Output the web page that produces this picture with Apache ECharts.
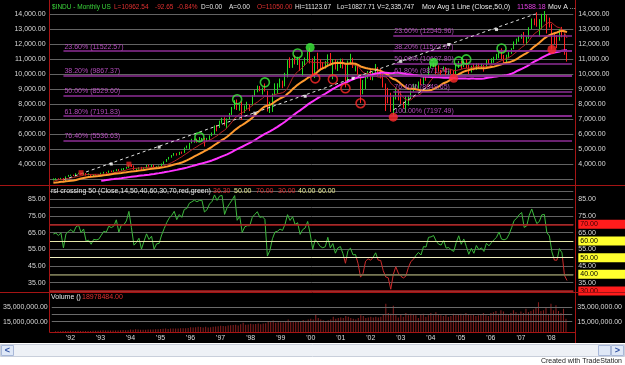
<!DOCTYPE html>
<html>
<head>
<meta charset="utf-8">
<script src="https://cdn.jsdelivr.net/npm/echarts@6/dist/echarts.min.js"></script>
<style>
html, body { margin: 0; padding: 0; background: #fff; }
#chart { width: 625px; height: 365px; }
</style>
</head>
<body>
<div id="chart"></div>
<script>
// $INDU monthly, Jul 1991 .. Jul 2008
const startYear = 1991
const startMonth = 7

// closes before the first bar, only used to warm up the indicators
const warmupCloses = [
  2342, 2258, 2294, 2419, 2480, 2440, 2661, 2737, 2693, 2645, 2706, 2753,
  2591, 2627, 2707, 2657, 2877, 2881, 2905, 2614, 2453, 2442, 2560, 2634,
  2736, 2882, 2914, 2888, 3028, 2907
]

const closes = [
  3025, 3044, 3017, 3069, 2895, 3169,
  3224, 3267, 3236, 3359, 3397, 3319, 3394, 3257, 3272, 3226, 3306, 3301,
  3310, 3371, 3435, 3428, 3527, 3516, 3540, 3651, 3555, 3681, 3684, 3754,
  3978, 3832, 3636, 3682, 3758, 3625, 3765, 3913, 3843, 3908, 3739, 3834,
  3844, 4011, 4158, 4321, 4465, 4556, 4709, 4611, 4789, 4756, 5075, 5117,
  5395, 5486, 5587, 5569, 5643, 5655, 5529, 5616, 5882, 6029, 6522, 6448,
  6813, 6878, 6584, 7009, 7331, 7673, 8223, 7622, 7945, 7442, 7823, 7908,
  7907, 8546, 8800, 9063, 8900, 8952, 8883, 7539, 7843, 8592, 9117, 9181,
  9359, 9307, 9786, 10789, 10560, 10971, 10655, 10829, 10337, 10729, 10878, 11497,
  10941, 10128, 10922, 10734, 10522, 10448, 10522, 11215, 10651, 10971, 10415, 10787,
  10887, 10495, 9879, 10735, 10912, 10502, 10523, 9950, 8848, 9075, 9852, 10021,
  9920, 10106, 10404, 9946, 9925, 9243, 8737, 8664, 7592, 8397, 8896, 8342,
  8054, 7891, 7992, 8480, 8850, 8985, 9234, 9416, 9275, 9801, 9782, 10454,
  10488, 10584, 10358, 10226, 10188, 10435, 10140, 10174, 10080, 10027, 10428, 10783,
  10490, 10766, 10504, 10193, 10467, 10275, 10641, 10482, 10569, 10440, 10806, 10718,
  10865, 10993, 11109, 11367, 11168, 11150, 11186, 11381, 11679, 12081, 12222, 12463,
  12622, 12269, 12354, 13063, 13628, 13409, 13212, 13358, 13896, 13930, 13372, 13265,
  12650, 12266, 12263, 12820, 12638, 11350, 10962.54
]

const highs = [
  3040, 3056, 3048, 3077, 3065, 3174,
  3272, 3290, 3290, 3380, 3413, 3416, 3413, 3400, 3385, 3290, 3310, 3333,
  3330, 3420, 3480, 3470, 3560, 3560, 3580, 3660, 3660, 3700, 3730, 3800,
  3990, 3990, 3900, 3720, 3780, 3810, 3780, 3940, 3960, 3960, 3950, 3860,
  3900, 4030, 4170, 4330, 4470, 4600, 4730, 4720, 4810, 4830, 5100, 5230,
  5410, 5680, 5700, 5690, 5800, 5740, 5740, 5740, 5910, 6100, 6570, 6600,
  6890, 7080, 7110, 7040, 7400, 7800, 8260, 8300, 8000, 8180, 7900, 8150,
  7990, 8600, 8930, 9230, 9200, 9100, 9370, 8890, 8150, 8700, 9380, 9380,
  9700, 9560, 10080, 10930, 11110, 11070, 11250, 11150, 11080, 10850, 11100, 11570,
  11750, 11050, 11190, 11420, 10990, 10800, 10870, 11310, 11400, 10990, 11000, 10900,
  11020, 11020, 10650, 10900, 11350, 11080, 10730, 10600, 9990, 9600, 9950, 10200,
  10260, 10180, 10670, 10460, 10350, 10020, 9370, 9080, 8750, 8600, 9050, 8960,
  8870, 8150, 8550, 8560, 8900, 9350, 9330, 9500, 9690, 9850, 9900, 10500,
  10750, 10760, 10700, 10580, 10280, 10500, 10450, 10230, 10340, 10240, 10600, 10870,
  10860, 10830, 10980, 10600, 10550, 10700, 10720, 10720, 10700, 10600, 10940, 10990,
  11050, 11150, 11340, 11420, 11710, 11270, 11290, 11460, 11720, 12170, 12360, 12530,
  12650, 12800, 12500, 13120, 13700, 13700, 14120, 13660, 14010, 14198, 13950, 13760,
  13340, 12770, 12600, 13000, 13140, 12670, 11450
]

const lows = [
  2900, 2898, 2985, 2970, 2880, 2863,
  3150, 3215, 3200, 3180, 3340, 3270, 3260, 3230, 3245, 3136, 3200, 3250,
  3240, 3300, 3360, 3370, 3410, 3460, 3480, 3530, 3530, 3550, 3600, 3680,
  3740, 3800, 3590, 3520, 3630, 3610, 3620, 3740, 3820, 3780, 3660, 3670,
  3800, 3830, 3990, 4140, 4300, 4420, 4550, 4560, 4600, 4680, 4740, 5040,
  5000, 5380, 5420, 5420, 5460, 5560, 5170, 5500, 5560, 5860, 5990, 6180,
  6400, 6700, 6560, 6390, 6980, 7270, 7650, 7600, 7550, 6930, 7400, 7650,
  7530, 7900, 8500, 8780, 8850, 8630, 8830, 7500, 7400, 7470, 8550, 8690,
  9100, 9050, 9180, 9770, 10400, 10410, 10640, 10600, 10200, 9880, 10570, 10820,
  10700, 9860, 9730, 10300, 10300, 10300, 10360, 10500, 10580, 9650, 10300, 10200,
  10400, 10360, 9110, 9390, 10600, 10400, 10170, 9900, 8060, 8650, 9000, 9700,
  9600, 9580, 10050, 9860, 9700, 9100, 7530, 8040, 7470, 7197, 8300, 8240,
  8000, 7700, 7420, 7900, 8370, 8830, 8950, 9030, 9250, 9270, 9550, 9760,
  10400, 10450, 10000, 10150, 9850, 10170, 9900, 9810, 10000, 9710, 10000, 10400,
  10340, 10460, 10400, 10000, 10100, 10250, 10270, 10380, 10380, 10160, 10400, 10680,
  10650, 10750, 10960, 11050, 11000, 10700, 10680, 11050, 11340, 11650, 12000, 12150,
  12350, 12030, 11940, 12350, 13000, 13250, 13150, 12500, 13000, 13500, 12700, 13100,
  11630, 12000, 11730, 12220, 12450, 11280, 10828
]

// volume in millions
const volumes = [
  1.8, 1.7, 1.9, 2.0, 2.1, 2.2,
  2.3, 2.2, 2.1, 2.3, 2.2, 2.1, 2.2, 2.0, 2.2, 2.5, 2.4, 2.4,
  2.8, 3.0, 2.9, 2.8, 2.9, 2.8, 2.7, 2.9, 3.0, 3.3, 3.2, 3.1,
  4.0, 3.8, 4.4, 4.1, 3.9, 3.8, 3.8, 4.1, 4.0, 4.3, 4.4, 4.5,
  5.0, 5.1, 5.5, 4.9, 5.4, 5.6, 5.5, 5.4, 5.8, 6.0, 5.9, 6.2,
  7.4, 7.1, 7.3, 7.9, 7.5, 7.0, 8.1, 6.9, 7.4, 7.9, 8.3, 8.6,
  9.4, 9.1, 8.6, 9.6, 9.9, 10.4, 10.8, 9.8, 11.3, 13.6, 10.6, 11.1,
  12.0, 11.3, 11.7, 12.5, 11.4, 12.4, 12.7, 15.1, 15.9, 16.5, 13.7, 14.1,
  14.4, 13.8, 15.2, 17.9, 15.6, 15.0, 14.7, 14.9, 15.5, 17.4, 16.3, 18.2,
  19, 18, 25, 20, 18, 17, 16, 17, 18, 22, 19, 20,
  21, 20, 23, 22, 20, 19, 18, 20, 24, 23, 20, 21,
  22, 21, 22, 21, 22, 25, 40, 27, 26, 37, 24, 21,
  25, 22, 27, 24, 26, 25, 24, 20, 25, 26, 22, 24,
  27, 24, 28, 25, 24, 23, 25, 22, 23, 26, 24, 25,
  26, 24, 27, 25, 24, 25, 23, 24, 25, 27, 24, 23,
  27, 28, 30, 26, 31, 29, 26, 25, 27, 31, 28, 26,
  29, 27, 33, 28, 30, 32, 35, 42, 30, 31, 35, 26,
  40, 31, 38, 30, 27, 33, 18.978484
]

// fibonacci retracements
const fibPcts = ["23.60%", "38.20%", "50.00%", "61.80%", "76.40%", "100.00%"]
const fibLeftLevels = [11522.57, 9867.37, 8529.6, 7191.83, 5536.63, 2860.64]
const fibRightLevels = [12545.96, 11523.97, 10697.8, 9871.74, 8849.65, 7197.49]
const fibLeftStart = 4
const fibRightStart = 135

// signal markers [bar index, price]
const greenHollow = [[58, 5793], [73, 8316], [84, 9445], [97, 11371], [161, 10839], [164, 10972], [178, 11703], [192, 14027]]
const greenFilled = [[102, 11769], [151, 10773], [195, 14093]]
const redHollow = [[104, 9710], [111, 9644], [116, 9046], [122, 8050]]
const redFilled = [[135, 7121], [159, 9710], [198, 11636]]
const redSmall = [[11, 3420], [30, 3990]]

// dashed trend lines and their dots
const trendLine1 = [[4, 2940], [193, 14093]]
const trendDots = [[23, 4000], [42, 5129], [80, 7386], [100, 8515], [119, 9710], [138, 10839], [157, 11968], [176, 12964]]
const trendLine2 = [[135, 7600], [150, 9300]]

// right-hand value boxes, as printed
const lastClose = 10962.54
const sma9Label = 12398.58
const sma50Label = 11588.18
const rsiLabel = 36.3
const volumeLabel = 18978484

const fontFamily = "Liberation Sans"
const fmt2 = v => Number(v).toLocaleString("en-US", { minimumFractionDigits: 2, maximumFractionDigits: 2 })

const N = closes.length
const W = warmupCloses.length
const allCloses = warmupCloses.concat(closes)

// one empty month before and two after the data
const cats = []
{
  let y = startYear
  let m = startMonth - 1
  for (let k = 0; k < N + 3; k++) {
    cats.push(y + "-" + String(m).padStart(2, "0"))
    m++
    if (m > 12) { m = 1; y++ }
  }
}
const pad = (arr, empty) => [empty].concat(arr, [empty, empty])
const pt = ([i, v]) => [cats[i + 1], v]

function sma(n) {
  return closes.map((_, i) => {
    const j = i + W
    if (j < n - 1) return "-"
    let s = 0
    for (let k = j - n + 1; k <= j; k++) s += allCloses[k]
    return +(s / n).toFixed(2)
  })
}

function rsi(n) {
  const out = []
  let ag = 0, al = 0
  for (let j = 1; j < allCloses.length; j++) {
    const d = allCloses[j] - allCloses[j - 1]
    const g = Math.max(d, 0), l = Math.max(-d, 0)
    if (j <= n) { ag += g / n; al += l / n } else { ag = (ag * (n - 1) + g) / n; al = (al * (n - 1) + l) / n }
    if (j >= W) out.push(j >= n ? +(100 - 100 / (1 + ag / al)).toFixed(2) : "-")
  }
  return out
}

const sma9 = sma(9)
const sma20 = sma(20)
const sma50 = sma(50)
const rsi14 = rsi(14)

const candles = closes.map((c, i) => [i === 0 ? warmupCloses[W - 1] : closes[i - 1], c, lows[i], highs[i]])

// panel geometry (pixels)
const gridPos = { left: 49.6, right: 51.7 }
const priceGrid = { top: 14, height: 165 }
const rsiGrid = { top: 191, height: 100 }
const volGrid = { top: 296.5, height: 36 }
const rsiMin = 30, rsiMax = 90

const boxLabel = (text, bg, fg) => ({
  show: true,
  position: "end",
  distance: 5,
  formatter: text,
  backgroundColor: bg,
  color: fg,
  padding: [1, 2, 0, 2],
  width: 43,
  fontSize: 7,
  lineHeight: 8
})

const fibLabel = text => ({
  show: true,
  position: "insideStartTop",
  distance: 1,
  formatter: text,
  color: "#b44cbc",
  fontSize: 7
})

const priceMarks = []
fibLeftLevels.forEach((v, i) => {
  priceMarks.push([
    { coord: [cats[fibLeftStart + 1], v], label: fibLabel(fibPcts[i] + " (" + v.toFixed(2) + ")") },
    { coord: [cats[cats.length - 1], v] }
  ])
})
fibRightLevels.forEach((v, i) => {
  priceMarks.push([
    { coord: [cats[fibRightStart + 1], v], label: fibLabel(fibPcts[i] + " (" + v.toFixed(2) + ")") },
    { coord: [cats[cats.length - 1], v] }
  ])
})
priceMarks.push({ yAxis: sma20[N - 1], lineStyle: { opacity: 0 }, label: boxLabel(fmt2(sma20[N - 1]), "#ff9a2e", "#3a1600") })
priceMarks.push({ yAxis: sma9Label, lineStyle: { opacity: 0 }, label: boxLabel(fmt2(sma9Label), "#ff1c1c", "#3a0000") })
priceMarks.push({ yAxis: sma50Label, lineStyle: { opacity: 0 }, label: boxLabel(fmt2(sma50Label), "#ff2cff", "#ffffff") })
priceMarks.push({ yAxis: lastClose, lineStyle: { opacity: 0 }, label: boxLabel(fmt2(lastClose), "#ff1c1c", "#3a0000") })

const rsiMarks = [
  { yAxis: 70, lineStyle: { color: "#b31b1b", width: 1.5 }, label: boxLabel("70.00", "#ff1c1c", "#3a0000") },
  { yAxis: 60, lineStyle: { color: "#e6e6a8", width: 1 }, label: boxLabel("60.00", "#ffff2e", "#000") },
  { yAxis: 50, lineStyle: { color: "#efefc0", width: 1 }, label: boxLabel("50.00", "#ffff2e", "#000") },
  { yAxis: 40, lineStyle: { color: "#7c7c52", width: 1.5 }, label: boxLabel("40.00", "#ffff2e", "#000") },
  { yAxis: rsiLabel, lineStyle: { opacity: 0 }, label: boxLabel(fmt2(rsiLabel), "#ff1c1c", "#3a0000") },
  { yAxis: 30, lineStyle: { color: "#b31b1b", width: 1.5 }, label: boxLabel("30.00", "#ff1c1c", "#3a0000") }
]

const volMarks = [
  { yAxis: 15, lineStyle: { color: "#6a6a6a", width: 1 }, label: { show: false } },
  { yAxis: 25, lineStyle: { color: "#6a6a6a", width: 1 }, label: { show: false } },
  { yAxis: 35, lineStyle: { color: "#6a6a6a", width: 1 }, label: { show: false } },
  { yAxis: volumeLabel / 1e6, lineStyle: { opacity: 0 }, label: boxLabel(fmt2(volumeLabel), "#ff1c1c", "#5a0000") }
]

// rsi line: green above 50, red below (global gradient over the panel)
const split50 = (rsiMax - 50) / (rsiMax - rsiMin)
const rsiColor = new echarts.graphic.LinearGradient(0, rsiGrid.top, 0, rsiGrid.top + rsiGrid.height, [
  { offset: 0, color: "#3cb83c" },
  { offset: split50, color: "#3cb83c" },
  { offset: split50, color: "#cc2b2b" },
  { offset: 1, color: "#cc2b2b" }
], true)

const labelStyle = { color: "#d8d8d8", fontSize: 7, fontFamily }

const xAxisBase = gi => ({
  type: "category",
  gridIndex: gi,
  data: cats,
  boundaryGap: true,
  axisLine: { show: false },
  axisTick: { show: false },
  splitLine: { show: false },
  axisLabel: { show: false }
})

const yAxisBase = (gi, pos, min, max, interval, fmt, split) => ({
  type: "value",
  gridIndex: gi,
  position: pos,
  min,
  max,
  interval,
  axisLine: { show: false },
  axisTick: { show: false },
  splitLine: { show: split, lineStyle: { color: "#636363", width: 1 } },
  axisLabel: { ...labelStyle, margin: pos === "left" ? 4 : 5, formatter: fmt }
})

const priceFmt = v => (v < 4000 ? "" : fmt2(v))
const rsiFmt = v => (v % 10 === 5 && v < 90 ? fmt2(v) : "")
const volFmt = v => (v === 15 || v === 35 ? fmt2(v * 1e6) : "")

const scatter = (data, size, color, filled, symbol) => ({
  type: "scatter",
  xAxisIndex: 0,
  yAxisIndex: 0,
  data: data.map(pt),
  symbol: symbol || "circle",
  symbolSize: size,
  silent: true,
  z: 6,
  itemStyle: filled
    ? { color }
    : { color: "rgba(0,0,0,0)", borderColor: color, borderWidth: 1.6 }
})

const series = [
  {
    type: "candlestick",
    xAxisIndex: 0,
    yAxisIndex: 0,
    data: pad(candles, ["-", "-", "-", "-"]),
    barMaxWidth: 2,
    clip: false,
    itemStyle: { color: "#22dd22", color0: "#ff2020", borderColor: "#22dd22", borderColor0: "#ff2020", borderWidth: 1 },
    markLine: {
      silent: true,
      symbol: ["none", "none"],
      animation: false,
      lineStyle: { type: "solid", color: "#8e2e96", width: 1.5 },
      data: priceMarks
    }
  },
  { type: "line", xAxisIndex: 0, yAxisIndex: 0, data: pad(sma9, "-"), showSymbol: false, clip: false, lineStyle: { color: "#b82424", width: 1 }, z: 3 },
  { type: "line", xAxisIndex: 0, yAxisIndex: 0, data: pad(sma20, "-"), showSymbol: false, clip: false, lineStyle: { color: "#ff9a2e", width: 2 }, z: 4 },
  { type: "line", xAxisIndex: 0, yAxisIndex: 0, data: pad(sma50, "-"), showSymbol: false, clip: false, lineStyle: { color: "#ff33ff", width: 2 }, z: 4 },
  { type: "line", xAxisIndex: 0, yAxisIndex: 0, data: trendLine1.map(pt), showSymbol: false, lineStyle: { color: "#e0e0e0", width: 1, type: [3, 3] }, z: 5 },
  { type: "scatter", xAxisIndex: 0, yAxisIndex: 0, data: trendDots.map(pt), symbol: "rect", symbolSize: 3, itemStyle: { color: "#ffffff" }, z: 5 },
  { type: "line", xAxisIndex: 0, yAxisIndex: 0, data: trendLine2.map(pt), showSymbol: false, lineStyle: { color: "#e0e0e0", width: 1, type: [3, 3] }, z: 5 },
  scatter(greenHollow, 9, "#3cf03c", false),
  scatter(greenFilled, 9, "#3cf03c", true),
  scatter(redHollow, 9, "#ff2a2a", false),
  scatter(redFilled, 9, "#ff2a2a", true),
  scatter(redSmall, 5, "#e02020", true, "rect"),
  {
    type: "line",
    xAxisIndex: 1,
    yAxisIndex: 2,
    data: pad(rsi14, "-"),
    showSymbol: false,
    lineStyle: { width: 1, color: rsiColor },
    z: 4,
    markLine: {
      silent: true,
      symbol: ["none", "none"],
      animation: false,
      lineStyle: { type: "solid" },
      data: rsiMarks
    }
  },
  {
    type: "bar",
    xAxisIndex: 2,
    yAxisIndex: 4,
    data: pad(volumes, "-"),
    barWidth: 1,
    itemStyle: { color: "#8c1f1f" },
    markLine: {
      silent: true,
      symbol: ["none", "none"],
      animation: false,
      lineStyle: { type: "solid" },
      data: volMarks
    }
  }
]

const txt = (text, x, y, fill, extra) => ({
  type: "text",
  x,
  y,
  silent: true,
  z: 20,
  style: { text, fill, fontSize: 7, fontFamily, verticalAlign: "middle", ...(extra || {}) }
})
const hline = (y, x1, x2) => ({ type: "line", silent: true, z: 15, shape: { x1, y1: y, x2, y2: y }, style: { stroke: "#a51414", lineWidth: 1 } })
const vline = (x, y1, y2) => ({ type: "line", silent: true, z: 15, shape: { x1: x, y1, x2: x, y2 }, style: { stroke: "#a51414", lineWidth: 1 } })
const small = { fontSize: 6.5 }

const graphic = [
  hline(185.5, 0, 625),
  hline(292.5, 0, 625),
  hline(332.5, 49.5, 575.5),
  vline(49.5, 0, 332.5),
  vline(575.5, 0, 343),
  { type: "rect", silent: true, z: 30, shape: { x: 0, y: 343, width: 625, height: 22 }, style: { fill: "#ffffff" } },
  { type: "rect", silent: true, z: 31, shape: { x: 0.5, y: 344.5, width: 624, height: 12 }, style: { fill: "#eef1f6", stroke: "#c9cfdb" } },
  { type: "rect", silent: true, z: 32, shape: { x: 1.5, y: 345.5, width: 12, height: 10 }, style: { fill: "#dfe8f7", stroke: "#a9b8d8" } },
  { type: "rect", silent: true, z: 32, shape: { x: 598.5, y: 345.5, width: 12, height: 10 }, style: { fill: "#dfe8f7", stroke: "#a9b8d8" } },
  { type: "rect", silent: true, z: 32, shape: { x: 611.5, y: 345.5, width: 12, height: 10 }, style: { fill: "#dfe8f7", stroke: "#a9b8d8" } },
  { ...txt("<", 7.5, 350.5, "#2c4ea0", { align: "center", fontSize: 9, fontWeight: "bold" }), z: 33 },
  { ...txt(">", 617.5, 350.5, "#2c4ea0", { align: "center", fontSize: 9, fontWeight: "bold" }), z: 33 },
  { ...txt("Created with TradeStation", 622, 361, "#222222", { align: "right" }), z: 33 },

  txt("$INDU - Monthly US", 52, 7, "#3ad43a", small),
  txt("L=10962.54", 114, 7, "#e03030", small),
  txt("-92.65", 155, 7, "#e03030", small),
  txt("-0.84%", 177, 7, "#e03030", small),
  txt("D=0.00", 201, 7, "#e8e8e8", small),
  txt("A=0.00", 229, 7, "#e8e8e8", small),
  txt("O=11050.00", 257, 7, "#e03030", small),
  txt("Hi=11123.67", 295, 7, "#e8e8e8", small),
  txt("Lo=10827.71", 337, 7, "#e8e8e8", small),
  txt("V=2,335,747", 377, 7, "#e8e8e8", small),
  txt("Mov Avg 1 Line (Close,50,0)", 422, 7, "#e8e8e8"),
  txt("11588.18", 517, 7, "#e040e0"),
  txt("Mov A ...", 548, 7, "#e8e8e8"),

  txt("rsi crossing 50 (Close,14,50,40,60,30,70,red,green)", 51, 191.5, "#e8e8e8"),
  txt("36.30", 213, 191.5, "#e03030"),
  txt("50.00", 234, 191.5, "#e6e690"),
  txt("70.00", 256, 191.5, "#e03030"),
  txt("30.00", 278, 191.5, "#e03030"),
  txt("40.00", 298, 191.5, "#e6e690"),
  txt("60.00", 318, 191.5, "#e6e690"),

  txt("Volume ()", 51, 297.5, "#e8e8e8"),
  txt("18978484.00", 82, 297.5, "#e03030")
]

const option = {
  backgroundColor: "#000000",
  animation: false,
  textStyle: { fontFamily },
  grid: [
    { ...gridPos, ...priceGrid },
    { ...gridPos, ...rsiGrid },
    { ...gridPos, ...volGrid }
  ],
  xAxis: [
    xAxisBase(0),
    xAxisBase(1),
    {
      ...xAxisBase(2),
      axisLabel: {
        show: true,
        ...labelStyle,
        margin: 2,
        interval: (index, value) => value.endsWith("-01"),
        formatter: v => "'" + v.slice(2, 4)
      }
    }
  ],
  yAxis: [
    yAxisBase(0, "left", 3000, 14000, 1000, priceFmt, true),
    yAxisBase(0, "right", 3000, 14000, 1000, priceFmt, false),
    yAxisBase(1, "left", rsiMin, rsiMax, 5, rsiFmt, true),
    yAxisBase(1, "right", rsiMin, rsiMax, 5, rsiFmt, false),
    yAxisBase(2, "left", 0, 50, 5, volFmt, false),
    yAxisBase(2, "right", 0, 50, 5, volFmt, false)
  ],
  series,
  graphic
}

const chart = echarts.init(document.getElementById("chart"), null, { renderer: "canvas" })
chart.setOption(option)
</script>
</body>
</html>
